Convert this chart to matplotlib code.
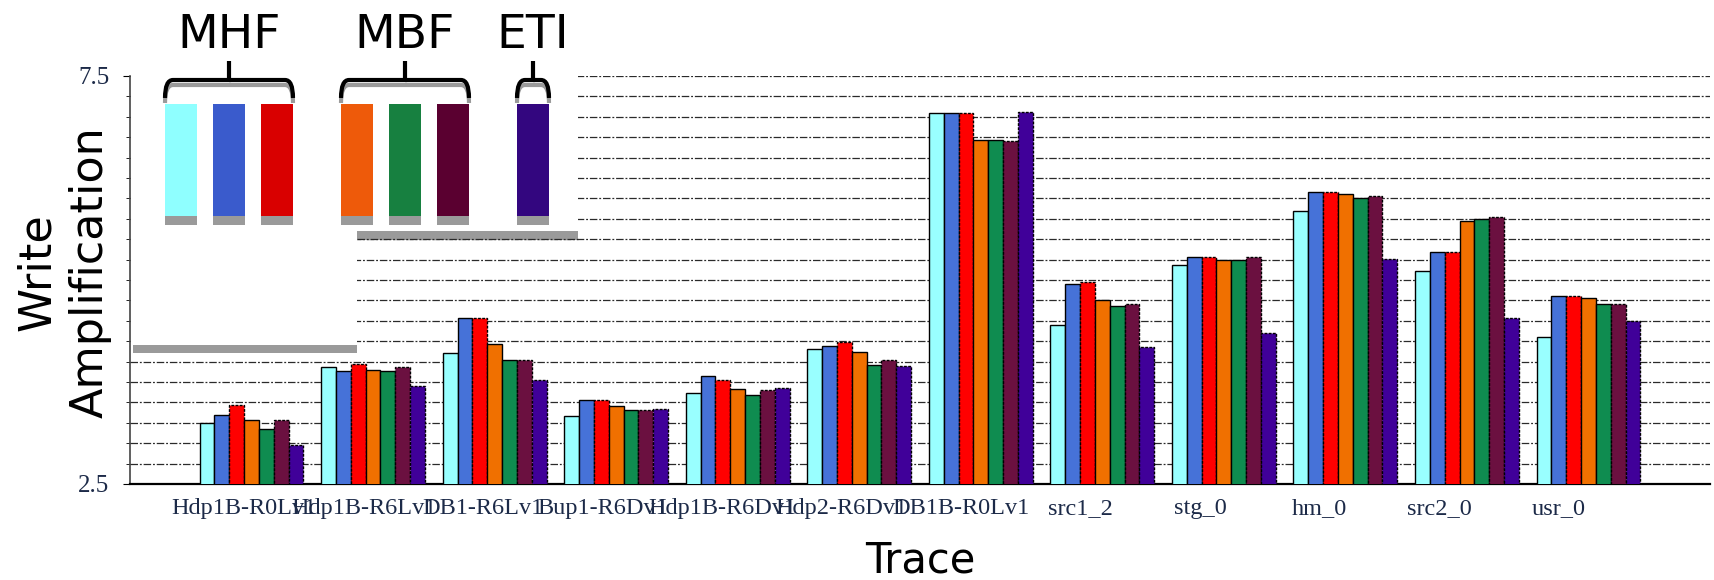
import numpy as np
import matplotlib.pyplot as plt
from matplotlib.patches import Rectangle, Polygon, PathPatch
from matplotlib.path import Path
from matplotlib.ticker import MultipleLocator, FixedLocator

traces = ["Hdp1B-R0Lv1", "Hdp1B-R6Lv1", "DB1-R6Lv1", "Bup1-R6Dv1", "Hdp1B-R6Dv1",
          "Hdp2-R6Dv1", "DB1B-R0Lv1", "src1_2", "stg_0", "hm_0", "src2_0", "usr_0"]

# MHF (3), MBF (3), ETI (1)
mhf_1 = [3.25, 3.93, 4.10, 3.33, 3.61, 4.16, 7.05, 4.45, 5.18, 5.84, 5.11, 4.30]
mhf_2 = [3.34, 3.88, 4.53, 3.53, 3.82, 4.19, 7.05, 4.95, 5.28, 6.08, 5.34, 4.81]
mhf_3 = [3.47, 3.97, 4.53, 3.53, 3.77, 4.24, 7.05, 4.97, 5.28, 6.08, 5.34, 4.81]
mbf_1 = [3.28, 3.90, 4.21, 3.45, 3.67, 4.12, 6.71, 4.75, 5.25, 6.05, 5.72, 4.78]
mbf_2 = [3.17, 3.88, 4.02, 3.41, 3.59, 3.96, 6.71, 4.68, 5.25, 6.01, 5.75, 4.71]
mbf_3 = [3.28, 3.93, 4.02, 3.41, 3.65, 4.02, 6.70, 4.71, 5.28, 6.03, 5.77, 4.71]
eti = [2.98, 3.70, 3.78, 3.42, 3.68, 3.95, 7.06, 4.18, 4.35, 5.26, 4.54, 4.50]

series = [mhf_1, mhf_2, mhf_3, mbf_1, mbf_2, mbf_3, eti]
bar_colors = ["#99ffff", "#4672d8", "#ff0000", "#f07000", "#0f8c50", "#6b1040", "#400099"]
edge_styles = ["-", "-", (0, (2, 1)), "-", "-", (0, (2, 1)), (0, (2, 1))]
legend_colors = ["#8fffff", "#3a5bcc", "#d90000", "#ee5a0a", "#178040", "#5a0030", "#33067f"]
group_names = ["MHF", "MBF", "ETI"]
group_sizes = [3, 3, 1]

W, H = 1714, 580
fig = plt.figure(figsize=(W / 100, H / 100), dpi=100)
ax = fig.add_axes([130 / W, (H - 484) / H, (1710 - 130) / W, (484 - 76) / H])

x = np.arange(len(traces))
bw = 0.122
for i, vals in enumerate(series):
    ax.bar(x + (i - 3) * bw, vals, bw, color=bar_colors[i], edgecolor="black",
           linewidth=1.0, linestyle=edge_styles[i], zorder=3)

ax.set_xlim(-1, 12)
ax.set_ylim(2.5, 7.5)
ax.yaxis.set_major_locator(FixedLocator([2.5, 7.5]))
ax.yaxis.set_minor_locator(MultipleLocator(0.25))
ax.set_axisbelow(True)
ax.grid(axis="y", which="both", color="#2a2a2a", linewidth=0.9, linestyle=(0, (6, 1.5, 1.5, 1.5)))
# tick labels in the original sit on a slightly tighter pitch than the bars
ax.set_xticks(x * 0.983 - 0.06)
ax.set_xticklabels(traces, fontfamily="Liberation Serif", fontsize=17.5, color="#1c2a48")
for lab in ax.get_yticklabels():
    lab.set_fontfamily("Liberation Serif")
ax.tick_params(axis="y", which="major", labelsize=18, labelcolor="#1c2a48", length=5, pad=10)
ax.tick_params(axis="y", which="minor", length=3)
ax.tick_params(axis="x", length=0, pad=10)
for s in ["top", "right"]:
    ax.spines[s].set_visible(False)
ax.spines["left"].set_color("#444444")
ax.spines["left"].set_linewidth(1.2)
ax.spines["bottom"].set_linewidth(1.6)

ax.set_xlabel("Trace", fontsize=30, labelpad=15)
fig.text(64 / W, 1 - 272 / H, "Write\nAmplification", rotation=90, fontsize=32,
         ha="center", va="center", multialignment="center", linespacing=1.3)

# legend inset pasted over the upper left corner
ov = fig.add_axes([0, 0, 1, 1])
ov.set_xlim(0, W)
ov.set_ylim(H, 0)
ov.axis("off")
ov.add_patch(Polygon([(131, 0), (578, 0), (578, 232), (357, 232), (357, 346), (131, 346)],
                     closed=True, facecolor="white", edgecolor="none"))
ov.add_patch(Rectangle((357, 231), 578 - 357, 9, facecolor="#9a9a9a", edgecolor="none"))
ov.add_patch(Rectangle((133, 345), 357 - 133, 8, facecolor="#9a9a9a", edgecolor="none"))
y55 = H - ax.transData.transform((0, 5.5))[1]
ov.plot([357, 578], [y55, y55], color="#2a2a2a", linewidth=0.9, linestyle=(0, (6, 1.5, 1.5, 1.5)))

lx, lw, lstep, gstep = 165, 32, 48, 80
idx = 0
for g, n in enumerate(group_sizes):
    x0 = lx
    for k in range(n):
        ov.add_patch(Rectangle((lx, 104), lw, 112, facecolor=legend_colors[idx], edgecolor="none"))
        ov.add_patch(Rectangle((lx, 216), lw, 9, facecolor="#9a9a9a", edgecolor="none"))
        idx += 1
        lx += lstep
    x1 = lx - lstep + lw
    xm = (x0 + x1) / 2
    r = min(8, (x1 - x0) / 4)
    for dy, col in [(5, "#9a9a9a"), (0, "black")]:
        verts = [(x0, 98 + dy), (x0, 80 + dy), (x0 + r, 80 + dy), (xm - 3, 80 + dy), (xm, 80 + dy),
                 (xm, 61 + dy), (xm, 80 + dy), (xm + 3, 80 + dy), (x1 - r, 80 + dy),
                 (x1, 80 + dy), (x1, 98 + dy)]
        codes = [Path.MOVETO, Path.CURVE3, Path.CURVE3, Path.LINETO, Path.LINETO,
                 Path.LINETO, Path.MOVETO, Path.LINETO, Path.LINETO, Path.CURVE3, Path.CURVE3]
        if dy:
            verts = verts[:4] + verts[7:]
            codes = codes[:4] + [Path.LINETO] + codes[8:]
        ov.add_patch(PathPatch(Path(verts, codes), facecolor="none", edgecolor=col,
                               linewidth=3.0, capstyle="butt"))
    ov.text(xm, 36, group_names[g], fontsize=34, ha="center", va="center")
    lx += gstep - lstep

fig.savefig("out.png", dpi=100)
